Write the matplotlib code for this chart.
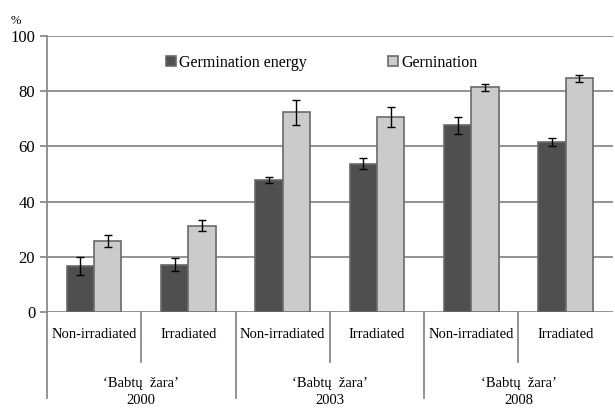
import numpy as np
import matplotlib.pyplot as plt
from matplotlib.transforms import blended_transform_factory

plt.rcParams['font.family'] = ['Liberation Serif', 'DejaVu Serif']

categories = ['Non-irradiated', 'Irradiated'] * 3
groups = ['\u2018Babtų  žara\u2019\n2000', '\u2018Babtų  žara\u2019\n2003', '\u2018Babtų  žara\u2019\n2008']
energy = [16.7, 17.2, 47.7, 53.7, 67.6, 61.6]
energy_err = [3.2, 2.4, 1.1, 2.0, 3.0, 1.6]
germ = [25.8, 31.3, 72.3, 70.7, 81.4, 84.7]
germ_err = [2.1, 2.1, 4.5, 3.6, 1.3, 1.3]

fig = plt.figure(figsize=(6.15, 4.09), dpi=100)
ax = fig.add_axes([0.0764, 0.237, 0.92, 0.675])

x = np.arange(len(categories))
w = 0.29
grid_c = '#8a8a8a'
ax.bar(x - w / 2, energy, w, color='#4f4f4f', edgecolor='#6a6a6a', linewidth=1.2,
       yerr=energy_err, error_kw=dict(ecolor='black', elinewidth=1, capsize=3, capthick=1),
       label='Germination energy', zorder=3)
ax.bar(x + w / 2, germ, w, color='#cbcbcb', edgecolor='#6a6a6a', linewidth=1.2,
       yerr=germ_err, error_kw=dict(ecolor='black', elinewidth=1, capsize=3, capthick=1),
       label='Gernination', zorder=3)

ax.set_xlim(-0.5, 5.5)
ax.set_ylim(0, 100)
ax.set_yticks(range(0, 101, 20))
ax.yaxis.grid(True, color=grid_c, linewidth=1.3)
ax.set_axisbelow(True)
for s in ['top', 'right', 'bottom']:
    ax.spines[s].set_visible(False)
ax.spines['left'].set_color(grid_c)
ax.spines['left'].set_linewidth(1.3)
ax.tick_params(axis='y', length=5, color=grid_c, width=1.3, labelsize=12)
ax.set_xticks([])
ax.text(-0.055, 1.045, '%', transform=ax.transAxes, fontsize=9, ha='center')

# bottom category axis
tr = blended_transform_factory(ax.transData, ax.transAxes)
for i, c in enumerate(categories):
    ax.text(i, -0.08, c, transform=tr, ha='center', va='center', fontsize=10.5)
for xs in [0.5, 2.5, 4.5]:
    ax.plot([xs, xs], [0, -0.18], transform=tr, color=grid_c, lw=1.3, clip_on=False)
for xs in [-0.5, 1.5, 3.5]:
    ax.plot([xs, xs], [0, -0.31], transform=tr, color=grid_c, lw=1.3, clip_on=False)
for g, gx in zip(groups, [0.5, 2.5, 4.5]):
    ax.text(gx, -0.29, g, transform=tr, ha='center', va='center', fontsize=10.5, linespacing=1.45)

ax.legend(loc='upper center', bbox_to_anchor=(0.486, 0.985), ncol=2, frameon=False,
          fontsize=11.5, handlelength=0.6, handleheight=0.6, handletextpad=0.2, columnspacing=5.1)

fig.savefig('out.png', dpi=100)
